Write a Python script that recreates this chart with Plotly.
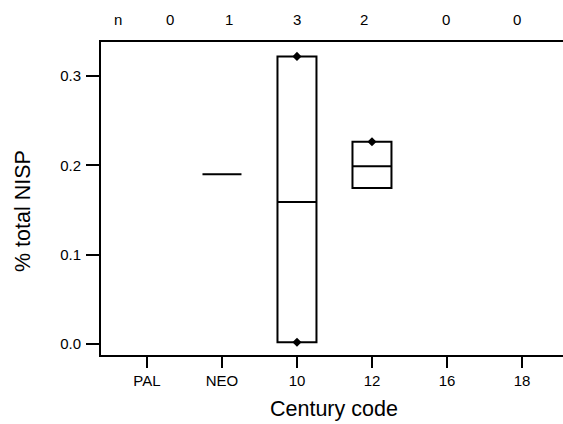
import plotly.graph_objects as go

# ---- data ----
categories = ["PAL", "NEO", "10", "12", "16", "18"]
counts = [0, 1, 3, 2, 0, 0]
box_cats = ["NEO", "10", "12"]
box_low = [0.19, 0.002, 0.1746]
box_median = [0.19, 0.159, 0.199]
box_high = [0.19, 0.322, 0.2265]
point_cats = ["10", "10", "12"]
point_vals = [0.322, 0.002, 0.2265]
y_ticks = [0.0, 0.1, 0.2, 0.3]

# ---- layout constants (pixels) ----
W, H = 563, 424
L, R, T, B = 101, 0, 42, 69
FONT = "Liberation Sans, Arial, sans-serif"
x_range = [-0.613, 5.547]
y_range = [-0.0123, 0.3381]
# x positions (in category units) of the count labels row above the plot
count_label_x = [0.31, 1.09, 2.0, 2.9, 3.99, 4.93]
n_label_x = -0.39

idx = {c: i for i, c in enumerate(categories)}

fig = go.Figure()
fig.add_trace(go.Box(
    x=[idx[c] for c in box_cats],
    q1=box_low, median=box_median, q3=box_high,
    lowerfence=box_low, upperfence=box_high,
    width=0.52, whiskerwidth=0,
    fillcolor="rgba(0,0,0,0)",
    line=dict(color="black", width=2),
    boxpoints=False, showlegend=False, hoverinfo="skip",
))
fig.add_trace(go.Scatter(
    x=[idx[c] for c in point_cats], y=point_vals, mode="markers",
    marker=dict(symbol="diamond", size=7, color="black"),
    showlegend=False, hoverinfo="skip",
))

def py(px):
    return (H - B - px) / (H - T - B)

def pxp(px):
    return (px - L) / (W - L - R)

annotations = []
annotations.append(dict(x=n_label_x, y=py(20), xref="x", yref="paper", text="n",
                        xanchor="center", yanchor="middle",
                        showarrow=False, font=dict(size=15, color="black", family=FONT)))
for xv, n in zip(count_label_x, counts):
    annotations.append(dict(x=xv, y=py(20), xref="x", yref="paper", text=str(n),
                            xanchor="center", yanchor="middle",
                            showarrow=False, font=dict(size=15, color="black", family=FONT)))
# axis titles
annotations.append(dict(x=pxp(334), y=py(409), xref="paper", yref="paper",
                        text="Century code", showarrow=False,
                        xanchor="center", yanchor="middle",
                        font=dict(size=21.5, color="black", family=FONT)))
annotations.append(dict(x=pxp(23), y=py(211), xref="paper", yref="paper",
                        text="% total NISP", textangle=-90, showarrow=False,
                        xanchor="center", yanchor="middle",
                        font=dict(size=21.5, color="black", family=FONT)))

fig.update_layout(
    width=W, height=H,
    margin=dict(l=L, r=R, t=T, b=B, autoexpand=False),
    paper_bgcolor="white", plot_bgcolor="white",
    font=dict(family=FONT, color="black"),
    annotations=annotations,
    xaxis=dict(
        range=x_range, tickmode="array",
        tickvals=list(range(len(categories))), ticktext=categories,
        ticks="outside", ticklen=11, tickwidth=2, tickcolor="black",
        showline=True, linecolor="black", linewidth=2, mirror=True,
        showgrid=False, zeroline=False,
        tickfont=dict(size=15, family=FONT, color="black"),
    ),
    yaxis=dict(
        range=y_range, tickmode="array",
        tickvals=y_ticks, ticktext=[f"{v:.1f}" for v in y_ticks],
        ticks="outside", ticklen=13, tickwidth=2, tickcolor="black",
        showline=True, linecolor="black", linewidth=2, mirror=False,
        showgrid=False, zeroline=False, ticklabelstandoff=2,
        tickfont=dict(size=15, family=FONT, color="black"),
    ),
)

fig.write_html("out.html")
